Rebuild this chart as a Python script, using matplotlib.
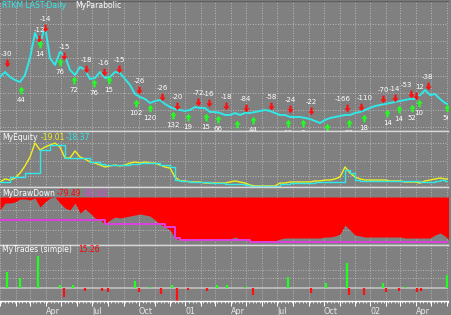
import numpy as np
import pandas as pd
import matplotlib
matplotlib.use("Agg")
import matplotlib.pyplot as plt
import matplotlib.dates as mdates
from matplotlib.path import Path

# ---- data (one sample every ~10 days) ----
price = [13.25, 14.5, 13.25, 12.5, 12.0, 13.75, 18.0, 24.25, 21.25, 26.0,
         18.0, 16.25, 19.5, 18.5, 15.0, 13.75, 15.75, 15.0, 12.75, 13.0,
         14.5, 13.0, 13.25, 14.5, 14.25, 12.75, 11.25, 9.0, 8.25, 7.75,
         6.75, 7.25, 7.5, 6.5, 5.75, 5.25, 5.0, 4.75, 5.0, 5.75,
         5.5, 5.5, 4.5, 4.5, 4.25, 3.75, 3.75, 4.25, 3.75, 4.25,
         4.25, 4.5, 4.75, 5.0, 4.75, 4.25, 3.75, 3.75, 3.25, 3.25,
         3.25, 3.0, 2.75, 2.25, 1.75, 2.5, 3.0, 3.25, 3.5, 3.75,
         3.75, 4.25, 4.5, 5.0, 5.5, 6.0, 6.25, 6.5, 6.75, 7.0,
         7.25, 7.5, 7.75, 7.75, 8.75, 10.0, 8.75, 9.0, 7.75, 6.75, 6.25]

equity = [15.9, 19.1, 18.0, 20.1, 25.4, 32.9, 42.4, 57.2, 49.8, 53.0,
          55.1, 57.2, 53.0, 41.3, 41.3, 48.8, 42.4, 40.3, 37.1, 36.0,
          33.9, 31.8, 32.9, 33.9, 32.9, 33.9, 36.0, 37.1, 36.0, 37.1,
          36.0, 36.0, 33.9, 31.8, 30.7, 21.2, 17.0, 17.0, 15.9, 15.9,
          15.9, 14.8, 14.8, 14.8, 14.8, 14.8, 15.9, 17.0, 15.9, 14.8,
          12.7, 11.7, 11.7, 11.7, 11.7, 11.7, 14.8, 14.8, 15.9, 15.9,
          15.9, 15.9, 15.9, 17.0, 17.0, 18.0, 18.0, 19.1, 21.2, 31.8,
          25.4, 21.2, 19.1, 18.0, 18.0, 18.0, 18.0, 18.0, 17.0, 17.0,
          17.0, 15.9, 15.9, 15.9, 14.8, 17.0, 18.0, 19.1, 20.1, 19.1, 19.01]

closed_equity = [15.9, 15.9, 21.2, 21.2, 21.2, 25.4, 25.4, 25.4, 49.8, 49.8,
                 55.1, 55.1, 55.1, 41.3, 41.3, 41.3, 41.3, 41.3, 37.1, 37.1,
                 35.0, 33.9, 33.9, 33.9, 33.9, 33.9, 35.0, 35.0, 36.0, 36.0,
                 36.0, 36.0, 33.9, 33.9, 31.8, 18.0, 17.0, 17.0, 15.9, 15.9,
                 15.9, 15.9, 14.8, 14.8, 14.8, 13.8, 13.8, 13.8, 13.8, 12.7,
                 11.7, 11.7, 11.7, 11.7, 11.7, 11.7, 13.8, 13.8, 14.8, 14.8,
                 14.8, 14.8, 14.8, 15.9, 15.9, 15.9, 15.9, 15.9, 15.9, 28.6,
                 25.4, 18.0, 17.0, 17.0, 17.0, 17.0, 17.0, 17.0, 17.0, 17.0,
                 17.0, 17.0, 17.0, 17.0, 15.9, 15.9, 15.9, 17.0, 18.0, 17.0, 18.37]

drawdown = [-23.4, -10.8, -10.8, -9.0, -3.6, -3.6, -5.4, -1.8, -18.0, -9.0,
            -1.8, 0.0, -10.8, -19.8, -23.4, -10.8, -28.8, -21.6, -28.8, -37.8,
            -41.4, -48.6, -41.4, -36.0, -37.8, -36.0, -34.2, -32.4, -30.6, -32.4,
            -34.2, -41.4, -48.6, -54.0, -59.4, -73.8, -77.4, -77.4, -77.4, -77.4,
            -77.4, -77.4, -77.4, -77.4, -77.4, -77.4, -75.6, -72.0, -75.6, -77.4,
            -79.2, -79.2, -79.2, -79.2, -79.2, -79.2, -75.6, -73.8, -73.8, -73.8,
            -73.8, -73.8, -73.8, -73.8, -73.8, -72.0, -72.0, -70.2, -66.6, -50.4,
            -59.4, -68.4, -70.2, -72.0, -72.0, -72.0, -72.0, -72.0, -72.0, -72.0,
            -72.0, -73.8, -73.8, -73.8, -73.8, -73.8, -73.8, -68.4, -64.8, -70.2, -79.49]

max_drawdown = [-41.4] * 21 + [-48.6] * 12 + [-54.0] * 2 + [-73.8] + [-77.4] * 14 + [-81.6] * 41

# signals: sells (red, label above) and buys (green, label below)
sell_dates = ["2000-01-14", "2000-03-18", "2000-03-30", "2000-05-06", "2000-06-19",
              "2000-07-24", "2000-08-23", "2000-10-01", "2000-11-16", "2000-12-15",
              "2001-01-26", "2001-02-16", "2001-03-22", "2001-04-30", "2001-06-19",
              "2001-07-26", "2001-09-06", "2001-11-16", "2001-12-13", "2002-01-26",
              "2002-02-18", "2002-03-22", "2002-04-01", "2002-04-24"]
sell_price = [16.75, 22.75, 25.5, 18.5, 15.25, 14.5, 15.25, 10.0, 8.25, 6.0,
              7.0, 6.75, 6.0, 5.5, 6.0, 5.25, 4.75, 5.5, 5.75, 7.75,
              8.0, 9.0, 8.5, 11.0]
sell_labels = ["-30", "-12", "-14", "-15", "-18", "-16", "-15", "-26", "-26", "-20",
               "-72", "-16", "-18", "-84", "-58", "-24", "-22", "-166", "-110", "-70",
               "-14", "-53", "12", "-38"]

buy_dates = ["2000-02-11", "2000-03-20", "2000-04-28", "2000-05-26", "2000-07-04",
             "2000-08-03", "2000-09-25", "2000-10-23", "2000-12-07", "2001-01-06",
             "2001-02-10", "2001-03-06", "2001-04-13", "2001-05-14", "2001-07-22",
             "2001-08-21", "2001-10-07", "2001-11-20", "2001-12-19", "2002-02-03",
             "2002-02-26", "2002-03-24", "2002-04-07", "2002-06-01"]
buy_price = [10.0, 21.5, 17.0, 12.5, 11.75, 12.5, 6.75, 5.5, 3.75, 3.25,
             3.25, 2.75, 1.5, 2.5, 1.75, 1.75, 0.75, 1.75, 3.0, 4.25,
             5.25, 5.5, 6.75, 5.5]
buy_labels = ["44", "14", "76", "72", "76", "15", "102", "120", "132", "19",
              "15", "66", "12", "44", "16", "8", "6", "20", "18", "14",
              "14", "52", "10", "56"]

trade_dates = ["2000-01-14", "2000-02-09", "2000-03-16", "2000-04-28", "2000-05-06",
               "2000-05-24", "2000-06-17", "2000-07-20", "2000-08-01", "2000-09-23",
               "2000-10-01", "2000-10-23", "2000-11-14", "2000-12-05", "2000-12-15",
               "2001-01-06", "2001-02-12", "2001-03-04", "2001-03-24", "2001-04-28",
               "2001-05-14", "2001-07-22", "2001-09-06", "2001-10-05", "2001-11-16",
               "2001-11-20", "2001-12-19", "2002-01-26", "2002-02-01", "2002-02-26",
               "2002-03-10", "2002-04-03", "2002-04-11", "2002-06-01"]
trade_result = [32, 20, 64, 6, -18, 6, -6, -6, -8, 14,
                -8, 3, -12, 6, -26, -4, -6, 6, 6, 3,
                -14, 22, -10, 10, 50, -14, -14, 10, -8, -6,
                3, -8, -6, 26]

dates = pd.date_range("2000-01-01", "2002-06-07", periods=len(price))
x_start, x_end = pd.Timestamp("2000-01-01"), pd.Timestamp("2002-06-03")

BG = "#808080"
GRID = "#c8c8c8"
SEP = "#d8d8d8"
CYAN = "#30e8e8"
FS = 5.2

fig = plt.figure(figsize=(4.51, 3.15), dpi=100, facecolor=BG)
W, H = 451.0, 315.0


def panel(top, bottom):
    ax = fig.add_axes([0, 1 - bottom / H, 448 / W, (bottom - top) / H])
    ax.set_facecolor(BG)
    ax.set_xlim(x_start, x_end)
    for s in ["left", "right"]:
        ax.spines[s].set_visible(False)
    ax.spines["top"].set_color(SEP)
    ax.spines["bottom"].set_color(SEP)
    ax.spines["top"].set_linewidth(1.0)
    ax.spines["bottom"].set_linewidth(1.0)
    ax.xaxis.set_major_locator(mdates.MonthLocator())
    ax.tick_params(left=False, labelleft=False, bottom=False, labelbottom=False)
    ax.grid(True, color=GRID, linestyle=(0, (1, 2)), linewidth=0.6)
    return ax


# price panel
ax1 = panel(1, 131)
ax1.spines["top"].set_color("#606060")
ax1.set_ylim(-0.25, 32.25)
ax1.set_yticks([0.7, 5.0, 9.3, 13.6, 17.9, 22.2, 26.5])
ax1.plot(dates, price, color=CYAN, lw=1.4)

down = Path([(-0.3, 1), (0.3, 1), (0.3, 0.05), (0.8, 0.05), (0, -1), (-0.8, 0.05), (-0.3, 0.05), (-0.3, 1)])
up = Path([(x, -y) for x, y in down.vertices])
sd = pd.to_datetime(sell_dates)
bd = pd.to_datetime(buy_dates)
ax1.plot(sd, sell_price, ls="none", marker=down, ms=5.5, color="#ff1010", mew=0)
ax1.plot(bd, buy_price, ls="none", marker=up, ms=5.5, color="#20ff20", mew=0)
# labels that sit on top of each other get pushed apart a little
nudge = {"-166": -3, "-110": 3, "-53": -3, "12": 2.5}
for d, p, t in zip(sd, sell_price, sell_labels):
    ax1.annotate(t, (d, p), xytext=(nudge.get(t, 0), 6.5), textcoords="offset points", ha="center",
                 va="center", fontsize=FS - 0.2, color="white", annotation_clip=True)
for d, p, t in zip(bd, buy_price, buy_labels):
    ax1.annotate(t, (d, p), xytext=(0, -7), textcoords="offset points", ha="center",
                 va="center", fontsize=FS - 0.2, color="white", clip_on=True)

# equity panel
ax2 = panel(131, 187)
ax2.set_ylim(10.6, 69.96)
ax2.set_yticks([22, 38, 57])
ax2.plot(dates, equity, color="#f0f020", lw=1.0)
ax2.plot(dates, closed_equity, color=CYAN, lw=1.0, drawstyle="steps-post")

# drawdown panel
ax3 = panel(187, 245)
ax3.set_ylim(-86.4, 18)
ax3.set_yticks([-23, -59])
ax3.fill_between(dates, 0, drawdown, color="#ff0000", lw=0, zorder=2)
ax3.plot(dates, max_drawdown, color="#e040e0", lw=1.4, drawstyle="steps-post", zorder=3)

# trades panel
ax4 = panel(245, 301)
ax4.set_ylim(-26, 86)
ax4.set_yticks([20, 36])
ax4.axhline(0, color="#b8b8b8", lw=1.4, zorder=1)
td = pd.to_datetime(trade_dates)
cols = ["#20ff20" if v > 0 else "#ff1010" for v in trade_result]
ax4.vlines(td, 0, trade_result, colors=cols, lw=1.6, zorder=2)
ax4.spines["bottom"].set_color("white")
ax4.tick_params(bottom=True, labelbottom=True, which="both", direction="out",
                colors="white", labelcolor="#e8e8e8", labelsize=FS + 0.6, pad=1)
ax4.tick_params(which="major", length=3.5, width=0.7)
ax4.tick_params(which="minor", length=1.5, width=0.6)
ax4.xaxis.set_minor_locator(mdates.WeekdayLocator(byweekday=mdates.MO))
ax4.xaxis.set_major_locator(mdates.MonthLocator())
qtr = {1: "%y", 4: "Apr", 7: "Jul", 10: "Oct"}


def month_label(v, pos):
    d = mdates.num2date(v)
    if d.month not in qtr or (d.year == 2000 and d.month == 1):
        return ""
    return d.strftime(qtr[d.month])


ax4.xaxis.set_major_formatter(plt.FuncFormatter(month_label))
for lab in ax4.get_xticklabels():
    lab.set_horizontalalignment("left")

# panel captions
def cap(x, y, s, c):
    fig.text(x / W, 1 - y / H, s, fontsize=FS + 0.3, color=c, va="center", ha="left")


cap(2, 6, "RTKM LAST-Daily", CYAN)
cap(75, 6, "MyParabolic", "white")
cap(2, 137, "MyEquity", "white")
cap(41, 137, "-19.01", "#f0f020")
cap(66, 137, "-18.37", CYAN)
cap(2, 193, "MyDrawDown", "white")
cap(57, 193, "-79.49", "#ff0000")
cap(84, 193, "-81.62", "#e040e0")
cap(2, 250, "MyTrades (simple)", "white")
cap(78, 250, "15.26", "#ff0000")

fig.savefig("out.png", dpi=100, facecolor=BG)
